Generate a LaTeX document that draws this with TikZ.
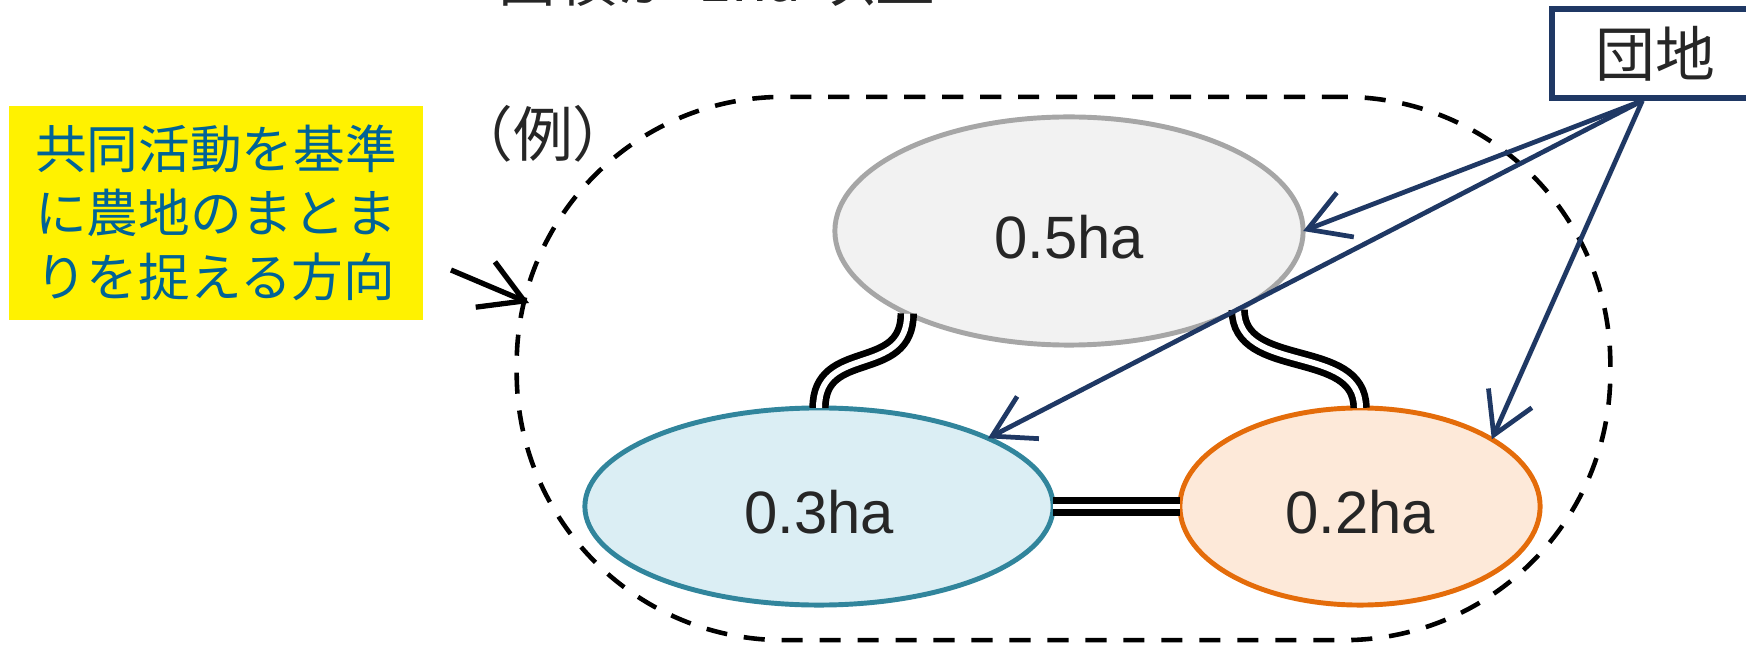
\documentclass[tikz,border=0pt]{standalone}
\usepackage{fontspec}
\setmainfont{Noto Sans CJK JP}
\newfontfamily\latinsans{Liberation Sans}
\usetikzlibrary{arrows.meta,shapes.geometric}
\definecolor{navy}{RGB}{31,56,100}
\definecolor{ytext}{RGB}{0,99,150}
\definecolor{gfill}{RGB}{242,242,242}
\definecolor{gline}{RGB}{166,166,166}
\definecolor{bfill}{RGB}{219,238,244}
\definecolor{bline}{RGB}{49,133,156}
\definecolor{ofill}{RGB}{253,233,217}
\definecolor{oline}{RGB}{228,108,10}
\begin{document}
\begin{tikzpicture}[x=0.01cm,y=-0.01cm,
  field/.style={ellipse, line width=1.4pt, inner sep=0pt, outer sep=0pt,
    font=\latinsans\fontsize{17}{17}\selectfont, text=black!85,
    text height=15.5pt, text depth=0pt},
  link/.style={draw=black, line width=1.9pt, double=white, double distance=1.7pt},
  navyarrow/.style={draw=navy, line width=1.35pt, -{Straight Barb[length=11.5pt,width=13.5pt]}},
  blackarrow/.style={draw=black, line width=1.5pt, -{Straight Barb[length=12pt,width=14pt]}},
  region/.style={draw=black, line width=1.3pt, dash pattern=on 6pt off 4.8pt,
    rounded corners=76pt, inner sep=0pt},
  jp/.style={font=\fontsize{17}{17}\selectfont, text=black!85, inner sep=0pt},
]
\useasboundingbox (0,0) rectangle (1746,646);
\clip (0,0) rectangle (1746,646);

% cut-off heading
\node[jp, anchor=base west] (ttl) at (497,2) {面積が\hspace{6pt}1ha\hspace{4pt}以上};

% dashed grouping region
\node[region, minimum width=10.93cm, minimum height=5.43cm] (grp) at (1063.5,368.5) {};
\node[jp] (rei) at (543,134) {（例）};

% yellow note
\node[fill=yellow, text=ytext, align=left, inner sep=0pt,
      minimum width=4.14cm, minimum height=2.14cm,
      font=\fontsize{14.7}{18.2}\selectfont] (note) at (216,213)
  {共同活動を基準\\に農地のまとま\\りを捉える方向};

% 団地 box
\node[draw=navy, line width=1.5pt, fill=white, jp, minimum width=2.06cm,
      minimum height=0.89cm] (dan) at (1655,53.5) {団地};

% fields
\node[field, fill=gfill, draw=gline, minimum width=4.68cm, minimum height=2.28cm] (e5) at (1069,231) {0.5ha};
\node[field, fill=bfill, draw=bline, minimum width=4.68cm, minimum height=1.97cm] (e3) at (819,506.5) {0.3ha};
\node[field, fill=ofill, draw=oline, minimum width=3.60cm, minimum height=1.97cm] (e2) at (1360,506.5) {0.2ha};

% double connectors
\draw[link] (e5.207) .. controls +(0,65) and +(0,-65) .. (e3.north);
\draw[link] (e5.-25) .. controls +(0,65) and +(0,-65) .. (e2.north);
\draw[link] (e3.east) -- (e2.west);

% arrows from 団地
\coordinate (src) at ([xshift=0.93cm]dan.south west);
\draw[navyarrow] (src) -- (e5.east);
\draw[navyarrow] (src) -- (e3.22.4);
\draw[navyarrow] (src) -- (e2.27.6);

% arrow from the note towards the region
\coordinate (la) at (451,270);
\coordinate (lb) at (529,303);
\draw[blackarrow] (la) -- (lb);
\end{tikzpicture}
\end{document}
